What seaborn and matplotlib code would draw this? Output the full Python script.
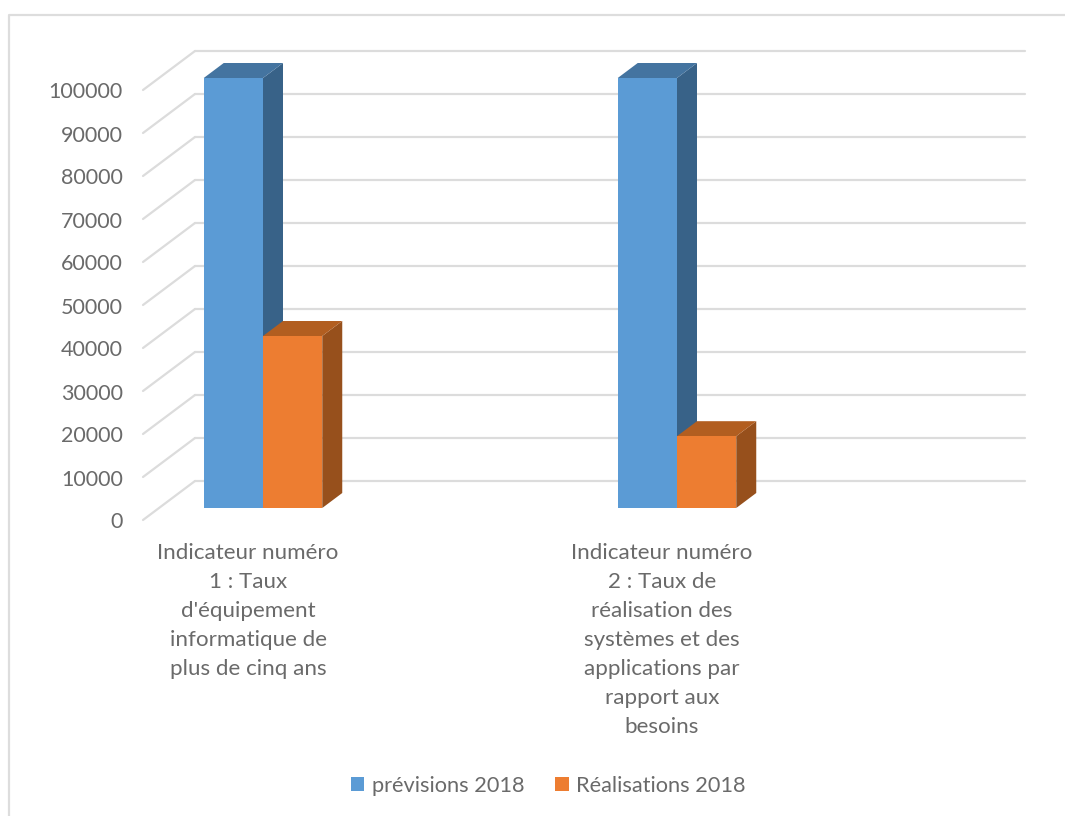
import pandas as pd
import matplotlib
matplotlib.use('Agg')
import matplotlib.pyplot as plt
import matplotlib.transforms as mtrans
from matplotlib.lines import Line2D
import seaborn as sns

# data
categories = ["Indicateur numéro\n1 : Taux\nd'équipement\ninformatique de\nplus de cinq ans",
              "Indicateur numéro\n2 : Taux de\nréalisation des\nsystèmes et des\napplications par\nrapport aux\nbesoins"]
series_names = ['prévisions 2018', 'Réalisations 2018']
previsions = [100000, 100000]
realisations = [40000, 16700]
y_ticks = [0, 10000, 20000, 30000, 40000, 50000, 60000, 70000, 80000, 90000, 100000]

colors = ['#5B9BD5', '#ED7D31']
side_colors = ['#386288', '#97501C']
top_colors = ['#4474A0', '#B25E20']
text_color = '#6A6A6A'
grid_color = '#DCDCDC'

df = pd.DataFrame({
    'cat': categories * 2,
    'serie': [series_names[0]] * 2 + [series_names[1]] * 2,
    'val': previsions + realisations,
})

sns.set_theme(style='white')
plt.rcParams['font.family'] = ['Lato', 'DejaVu Sans']

W, H = 1065, 816
fig = plt.figure(figsize=(W / 100, H / 100), dpi=100)
# front plane of the chart, in pixels of the reference
ax = fig.add_axes([143 / W, 1 - 508 / H, (1025 - 143) / W, (508 - 51) / H])

px_x = 414.0        # pixels per category
px_y = 430 / 100000  # pixels per value unit
ax.set_xlim(-120 / px_x, 762 / px_x)
ax.set_ylim(0, 457 / px_y)


def bx(p):
    return p / px_x


def by(p):
    return p / px_y


# back wall and left wall gridlines
for v in y_ticks:
    yb = v + by(27)
    ax.plot([bx(195 - 263), bx(1025 - 263)], [yb, yb], color=grid_color, lw=1.6, zorder=1, clip_on=False)
    ax.plot([bx(143 - 263), bx(195 - 263)], [v - by(12), yb], color=grid_color, lw=1.6, zorder=1, clip_on=False)

sns.barplot(data=df, x='cat', y='val', hue='serie', hue_order=series_names, palette=colors,
            width=118.5 / px_x, gap=0, saturation=1, linewidth=0, legend=True, ax=ax, zorder=3)
ax.set_xlim(-120 / px_x, 762 / px_x)
ax.set_ylim(0, 457 / px_y)

# 3D look: side and top faces taken from the bars seaborn drew
dx, dy = bx(20), by(15)
for s, container in enumerate(ax.containers):
    for bar in container:
        bar.set_zorder(3 + 2 * s)
        x0, y0, w, h = bar.get_x(), bar.get_y(), bar.get_width(), bar.get_height()
        x1, y1 = x0 + w, y0 + h
        ax.fill([x1, x1 + dx, x1 + dx, x1], [y0, y0 + dy, y1 + dy, y1],
                color=side_colors[s], lw=0, zorder=2 + 2 * s, clip_on=False)
        ax.fill([x0, x0 + dx, x1 + dx, x1], [y1, y1 + dy, y1 + dy, y1],
                color=top_colors[s], lw=0, zorder=2 + 2 * s, clip_on=False)

for side in ax.spines.values():
    side.set_visible(False)
ax.set_xlabel('')
ax.set_ylabel('')
ax.set_yticks(y_ticks)
ax.set_yticklabels([str(v) for v in y_ticks])
ax.tick_params(axis='y', length=0, pad=14.5, labelsize=15.5, labelcolor=text_color)
ax.tick_params(axis='x', length=0, pad=25, labelsize=16.1, labelcolor=text_color)

# labels sit on the front edge of the floor, not on the bars
shift_y = mtrans.ScaledTranslation(0, -12.5 / 100, fig.dpi_scale_trans)
for lab in ax.get_yticklabels():
    lab.set_transform(lab.get_transform() + shift_y)
shift_x = mtrans.ScaledTranslation(-15 / 100, 0, fig.dpi_scale_trans)
for lab in ax.get_xticklabels():
    lab.set_transform(lab.get_transform() + shift_x)
    lab.set_linespacing(1.57)

handles, labels = ax.get_legend_handles_labels()
ax.legend(handles, labels, ncol=2, frameon=False, loc='center', fontsize=15.7, labelcolor=text_color,
          bbox_to_anchor=(548.5 / W, 1 - 786 / H), bbox_transform=fig.transFigure,
          handlelength=0.6, handleheight=0.6, handletextpad=0.36, columnspacing=1.42)

# chart frame
fig.add_artist(Line2D([9 / W, 9 / W, 1], [0, 1 - 15 / H, 1 - 15 / H], color='#DDDDDD', lw=1.6))

fig.savefig('out.png', dpi=100)
